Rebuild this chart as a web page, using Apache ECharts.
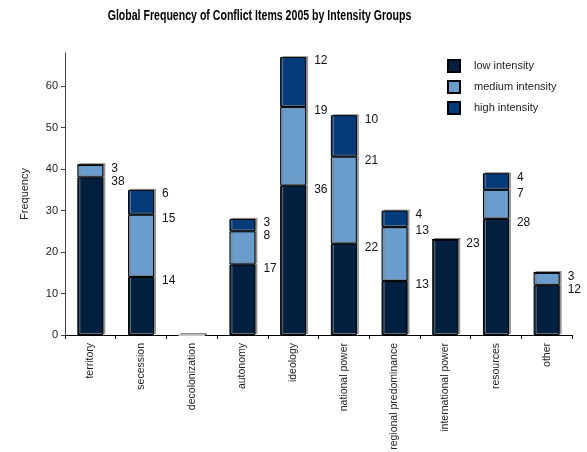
<!DOCTYPE html>
<html>
<head>
<meta charset="utf-8">
<script src="https://cdn.jsdelivr.net/npm/echarts@6/dist/echarts.min.js"></script>
<style>
  html, body { margin: 0; padding: 0; background: #fff; }
  #chart { width: 587px; height: 452px; }
</style>
</head>
<body>
<div id="chart"></div>
<script>
// Conflict items counted in 2005, split by intensity group
const categories = ['territory', 'secession', 'decolonization', 'autonomy', 'ideology',
  'national power', 'regional predominance', 'international power', 'resources', 'other'];
const lowIntensity    = [38, 14, 0, 17, 36, 22, 13, 23, 28, 12];
const mediumIntensity = [3, 15, 0, 8, 19, 21, 13, 0, 7, 3];
const highIntensity   = [0, 6, 0, 3, 12, 10, 4, 0, 4, 0];
const yTicks = [0, 10, 20, 30, 40, 50, 60];
const chartTitle = 'Global Frequency of Conflict Items 2005 by Intensity Groups';

const font = 'Liberation Sans, Arial, sans-serif';

// Column totals: an empty column is only hinted at by a faint base line
const totals = categories.map((_, i) => lowIntensity[i] + mediumIntensity[i] + highIntensity[i]);

function stackSeries(name, data, color) {
  return {
    name: name,
    type: 'bar',
    stack: 'total',
    barWidth: 26,
    data: data.map((v, i) => totals[i] === 0
      ? { value: v, itemStyle: { borderColor: '#c8c8c8' } }
      : v),
    itemStyle: {
      color: color,
      borderColor: '#000',
      borderWidth: 1,
      shadowColor: 'rgba(130,130,130,0.8)',
      shadowOffsetX: 2,
      shadowOffsetY: -1,
      shadowBlur: 0
    },
    label: {
      show: true,
      position: ['100%', 0],
      offset: [8, 4],
      align: 'left',
      verticalAlign: 'middle',
      fontFamily: font,
      fontSize: 12,
      color: '#111',
      formatter: p => (p.value ? String(p.value) : '')
    }
  };
}

const chart = echarts.init(document.getElementById('chart'));
chart.setOption({
  animation: false,
  backgroundColor: '#fff',
  // Condensed bold heading, squeezed horizontally around its centre
  graphic: [{
    type: 'text',
    x: 259.5,
    y: 16,
    scaleX: 0.755,
    style: {
      text: chartTitle,
      font: 'bold 14px Liberation Sans, Arial, sans-serif',
      fill: '#000',
      textAlign: 'center',
      textVerticalAlign: 'middle'
    }
  }],
  legend: {
    orient: 'vertical',
    left: 447,
    top: 59,
    padding: 0,
    itemWidth: 12,
    itemHeight: 12,
    itemGap: 7,
    icon: 'rect',
    textStyle: { fontFamily: font, fontSize: 11, color: '#222', padding: [0, 0, 0, 9] },
    data: ['low intensity', 'medium intensity', 'high intensity']
  },
  grid: { left: 65, right: 15, top: 53, bottom: 117, outerBoundsMode: 'none', containLabel: false },
  xAxis: {
    type: 'category',
    data: categories,
    axisLine: { lineStyle: { color: '#000', width: 1 } },
    axisTick: { show: true, length: 4, lineStyle: { color: '#000' } },
    axisLabel: {
      rotate: 90,
      interval: 0,
      margin: 8,
      fontFamily: font,
      fontSize: 10.5,
      color: '#222'
    }
  },
  yAxis: {
    type: 'value',
    min: 0,
    max: 68,
    name: 'Frequency',
    nameLocation: 'middle',
    nameGap: 35,
    nameTextStyle: { fontFamily: font, fontSize: 11, color: '#222' },
    axisLine: { show: true, lineStyle: { color: '#444', width: 1 } },
    axisTick: { show: true, length: 4, customValues: yTicks, lineStyle: { color: '#444' } },
    axisLabel: { customValues: yTicks, margin: 7, fontFamily: font, fontSize: 11, color: '#222' },
    splitLine: { show: false }
  },
  series: [
    stackSeries('low intensity', lowIntensity, '#011f3f'),
    stackSeries('medium intensity', mediumIntensity, '#6a9ccc'),
    stackSeries('high intensity', highIntensity, '#033b7b')
  ]
});
</script>
</body>
</html>
